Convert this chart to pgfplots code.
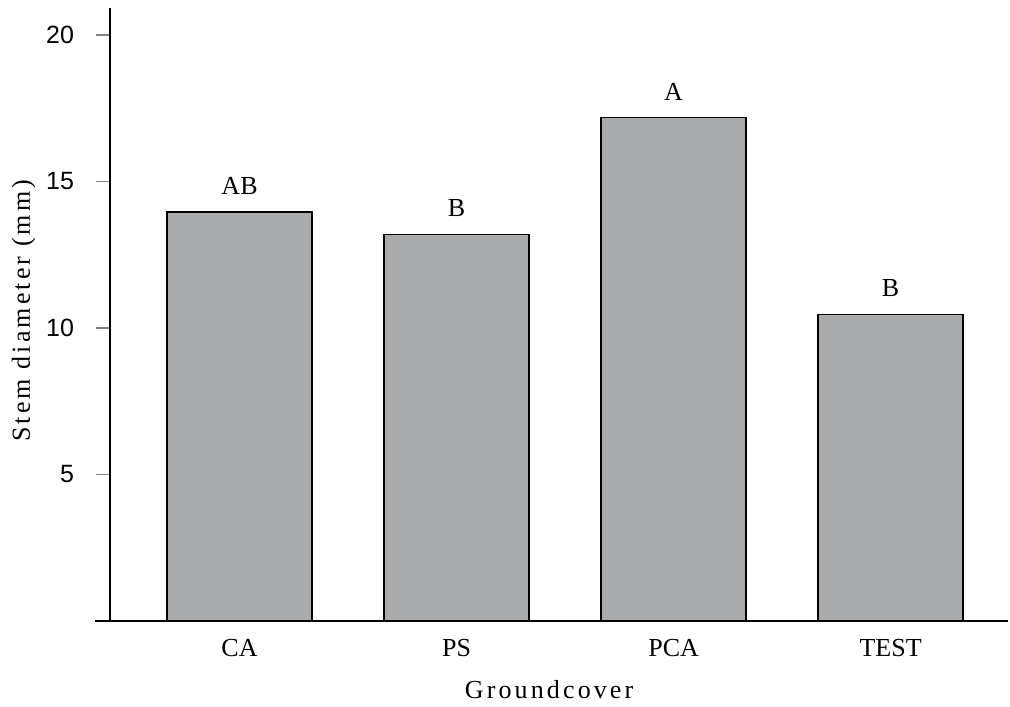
\documentclass[border=0pt]{standalone}
\usepackage{fontspec}
\setmainfont{Liberation Serif}
\newfontfamily\arial{Liberation Sans}
\newfontfamily\widefont[LetterSpace=12]{Liberation Serif}
\usepackage{pgfplots}
\usepackage{pgfplotstable}
\pgfplotsset{compat=1.18}
\pgfplotstableread{
x y label
0 13.95 AB
1 13.19 B
2 17.18 A
3 10.46 B
}\datatable
\begin{document}
\begin{tikzpicture}
\begin{axis}[
  scale only axis,
  width=449pt, height=306.5pt,
  xmin=-0.597, xmax=3.541,
  ymin=0, ymax=20.92,
  axis x line*=bottom, axis y line*=left,
  axis line style={line width=0.8pt},
  xtick={0,1,2,3},
  xticklabels={CA,PS,PCA,TEST},
  xtick style={draw=none},
  ytick={5,10,15,20},
  tick align=outside,
  major tick length=7pt,
  ytick style={line width=0.8pt},
  /pgf/number format/assume math mode=true,
  yticklabel style={font=\arial\fontsize{12.5}{14}\selectfont, xshift=-7.5pt},
  xticklabel style={font=\fontsize{13}{15}\selectfont, yshift=1.5pt},
  xlabel={Groundcover},
  ylabel={Stem diameter (mm)},
  label style={font=\widefont\fontsize{13}{15}\selectfont},
  xlabel style={at={(axis description cs:0.489,0)}, anchor=north, yshift=-26.4pt},
  ylabel style={at={(axis description cs:0,0.506)}, anchor=south, yshift=33.7pt},
  clip=false,
]
\addplot[ybar, bar width=72.5pt, fill={rgb,255:red,168;green,170;blue,171}, draw=black, line width=0.8pt,
  point meta=explicit symbolic,
  nodes near coords,
  nodes near coords style={font=\fontsize{13}{15}\selectfont, anchor=south, yshift=5pt, black}]
  table[x=x, y=y, meta=label]{\datatable};
\end{axis}
\draw[line width=0.8pt] (current axis.south west) -- ++(-7.5pt,0);
\pgfresetboundingbox
\path ([shift={(-55pt,-42.5pt)}]current axis.south west) rectangle ([shift={(1pt,4pt)}]current axis.north east);
\end{tikzpicture}
\end{document}
